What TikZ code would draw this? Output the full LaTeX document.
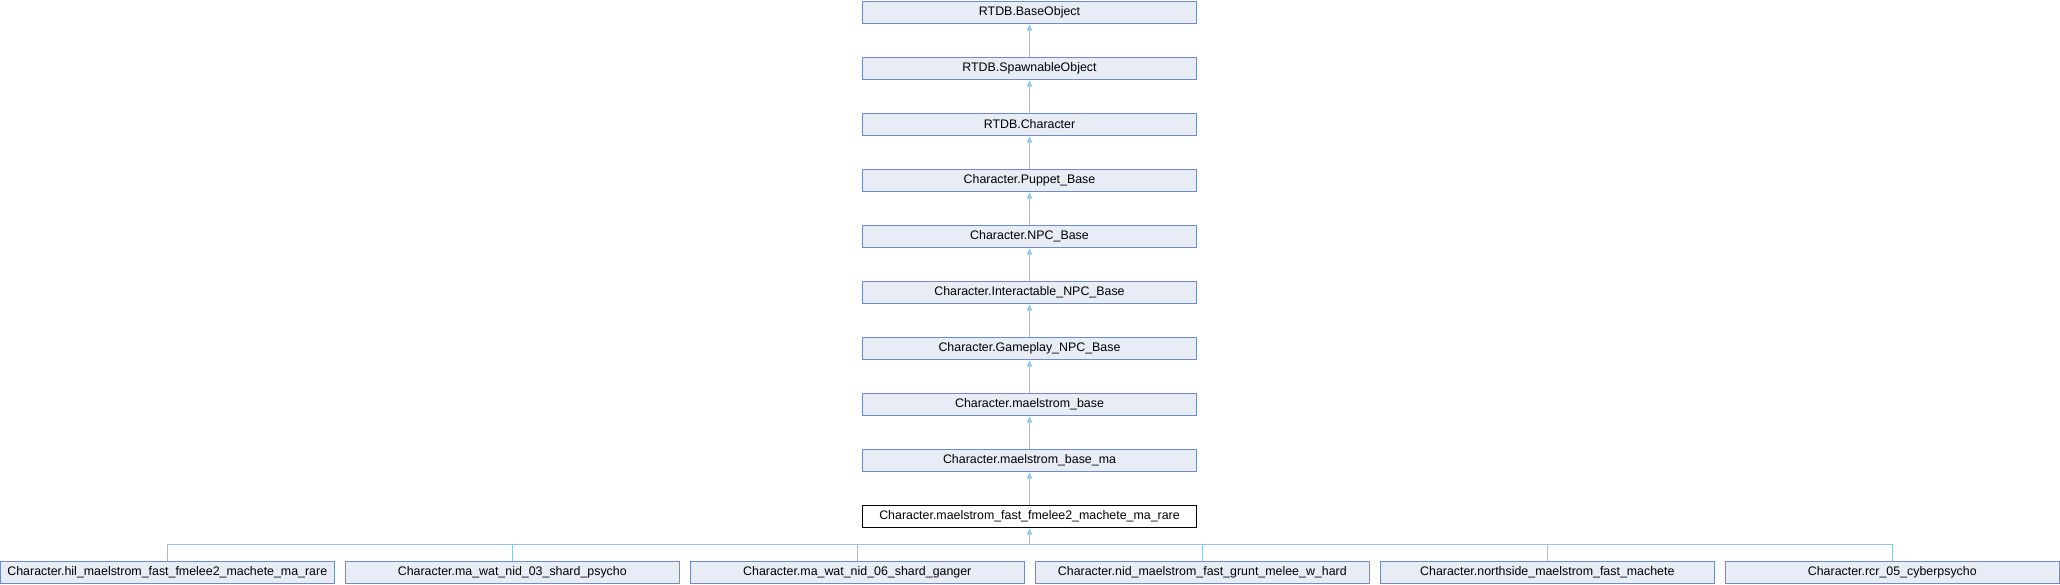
\documentclass[tikz,border=0pt]{standalone}
\usepackage{fontspec}
\setmainfont{Liberation Sans}
\usetikzlibrary{arrows.meta}
\definecolor{boxfill}{RGB}{232,236,245}
\definecolor{boxdraw}{RGB}{112,140,200}
\definecolor{edgecol}{RGB}{143,198,235}
\begin{document}
\begin{tikzpicture}[x=1pt,y=-1pt,
  cls/.style={draw=boxdraw,fill=boxfill,line width=1pt,minimum width=333.4pt,minimum height=22pt,inner sep=0pt,font=\fontsize{12.4}{14}\selectfont},
  cur/.style={cls,draw=black,fill=white},
  inh/.style={draw=edgecol,line width=1pt,-{Triangle[width=5pt,length=6pt]},shorten >=1pt},
  lnk/.style={draw=edgecol,line width=1pt}]
\useasboundingbox (0,0) rectangle (2060,584);
\node[cls] (n0) at (1029.5,12) {RTDB.BaseObject};
\node[cls] (n1) at (1029.5,68) {RTDB.SpawnableObject};
\node[cls] (n2) at (1029.5,124) {RTDB.Character};
\node[cls] (n3) at (1029.5,180) {Character.Puppet\_Base};
\node[cls] (n4) at (1029.5,236) {Character.NPC\_Base};
\node[cls] (n5) at (1029.5,292) {Character.Interactable\_NPC\_Base};
\node[cls] (n6) at (1029.5,348) {Character.Gameplay\_NPC\_Base};
\node[cls] (n7) at (1029.5,404) {Character.maelstrom\_base};
\node[cls] (n8) at (1029.5,460) {Character.maelstrom\_base\_ma};
\node[cur] (n9) at (1029.5,516) {Character.maelstrom\_fast\_fmelee2\_machete\_ma\_rare};
\node[cls] (c0) at (167.3,572) {Character.hil\_maelstrom\_fast\_fmelee2\_machete\_ma\_rare};
\node[cls] (c1) at (512.3,572) {Character.ma\_wat\_nid\_03\_shard\_psycho};
\node[cls] (c2) at (857.3,572) {Character.ma\_wat\_nid\_06\_shard\_ganger};
\node[cls] (c3) at (1202.3,572) {Character.nid\_maelstrom\_fast\_grunt\_melee\_w\_hard};
\node[cls] (c4) at (1547.3,572) {Character.northside\_maelstrom\_fast\_machete};
\node[cls] (c5) at (1892.3,572) {Character.rcr\_05\_cyberpsycho};
\draw[inh] (n1) -- (n0);
\draw[inh] (n2) -- (n1);
\draw[inh] (n3) -- (n2);
\draw[inh] (n4) -- (n3);
\draw[inh] (n5) -- (n4);
\draw[inh] (n6) -- (n5);
\draw[inh] (n7) -- (n6);
\draw[inh] (n8) -- (n7);
\draw[inh] (n9) -- (n8);
\coordinate (hub) at (1029.5,544.3);
\draw[inh] (hub) -- (n9);
\foreach \c in {c0,c1,c2,c3,c4,c5} {\draw[lnk] (\c.north) |- (hub);}
\end{tikzpicture}
\end{document}
